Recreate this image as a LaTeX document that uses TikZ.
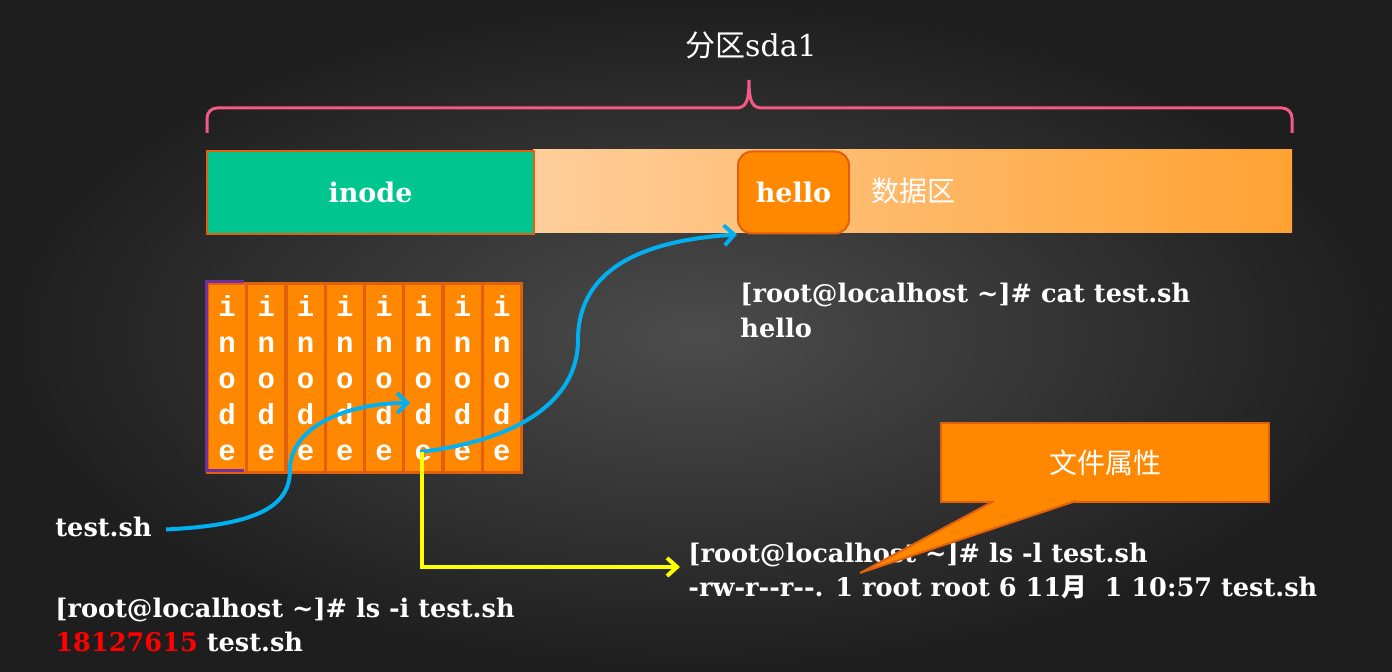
\documentclass[tikz,border=0pt]{standalone}
\usepackage{fontspec}
\setmainfont{DejaVu Serif}
\newfontfamily\cjk{Noto Sans CJK SC}
\newfontfamily\monob{Liberation Mono}
\usetikzlibrary{arrows.meta}
\definecolor{bgin}{RGB}{76,76,76}
\definecolor{bgout}{RGB}{30,30,30}
\definecolor{orng}{RGB}{255,136,0}
\definecolor{orngdk}{RGB}{224,96,16}
\definecolor{grn}{RGB}{0,197,143}
\definecolor{pinkb}{RGB}{245,90,135}
\definecolor{blu}{RGB}{0,176,240}
\definecolor{yel}{RGB}{255,255,0}
\definecolor{dlight}{RGB}{255,206,155}
\definecolor{ddark}{RGB}{255,162,50}
\definecolor{purp}{RGB}{112,48,160}
\definecolor{numred}{RGB}{255,0,0}
\tikzset{
  txt/.style={text=white, inner sep=0pt, font=\bfseries\fontsize{12.8}{16}\selectfont, anchor=base west},
  cellbox/.style={fill=orng, draw=orngdk, line width=1.5pt, inner sep=0pt,
    minimum width=19.6pt, minimum height=94.5pt, anchor=north west,
    text=white, align=center, font=\monob\bfseries\fontsize{14.5}{18}\selectfont},
  bluarrow/.style={draw=blu, line width=2pt, -{Straight Barb[length=5pt,width=10pt]}},
  yelarrow/.style={draw=yel, line width=2pt, -{Straight Barb[length=5pt,width=9pt]}},
}
\begin{document}
\begin{tikzpicture}[x=0.5pt,y=-0.5pt]
\useasboundingbox (0,0) rectangle (1392,672);
\shade[inner color=bgin, outer color=bgout] (0,0) rectangle (1392,672);

% title and brace
\node (title) [text=white, font=\fontsize{15}{18}\selectfont] at (751,45) {{\cjk 分区}sda1};
\draw[pinkb, line width=1.5pt, rounded corners=5pt] (207,133) -- (207,108) -- (735,108);
\draw[pinkb, line width=1.5pt] (735,108) .. controls (745,108) and (749,104) .. (749,80)
   .. controls (749,104) and (753,108) .. (763,108);
\draw[pinkb, line width=1.5pt, rounded corners=5pt] (763,108) -- (1292,108) -- (1292,133);

% partition bar
\shade[left color=dlight, right color=ddark] (533,150) rectangle (1292,233);
\node (inodebar) [fill=grn, draw=orngdk, line width=1pt, inner sep=0pt, minimum width=163.5pt,
   minimum height=41.5pt, anchor=north west, text=white, font=\bfseries\fontsize{13.5}{16}\selectfont] at (206,150) {inode};
\node (hello) [fill=orng, draw=orngdk, line width=1pt, rounded corners=7pt, inner sep=0pt,
   minimum width=55.5pt, minimum height=41pt, anchor=north west, text=white,
   font=\bfseries\fontsize{13.5}{16}\selectfont] at (737,150.5) {hello};
\node (datalabel) [text=white, font=\cjk\fontsize{14}{16}\selectfont] at (913,191) {数据区};

% inode cells
\foreach \i in {1,...,8}{
  \node (cell\i) [cellbox] at ({206+39.25*(\i-1)},282) {i\\n\\o\\d\\e};
}
\draw[purp, line width=1.5pt] (244,282) -- (206,282) -- (206,471) -- (244,471);

% texts
\node (testsh) [txt] at (55,537) {test.sh};
\node (lsi) [txt] at (55,618) {[root@localhost \textasciitilde]\# ls -i test.sh};
\node (num) [txt] at (55,652) {\textcolor{numred}{18127615} test.sh};
\node (catcmd) [txt] at (740,303) {[root@localhost \textasciitilde]\# cat test.sh};
\node (catout) [txt] at (740,338) {hello};
\node (lslcmd) [txt] at (688,563) {[root@localhost \textasciitilde]\# ls -l test.sh};
\node (lslout) [txt] at (688,597) {-rw-r-{}-r-{}-. 1 root root 6 11{\cjk 月}\ \ 1 10:57 test.sh};

% connectors
\coordinate (b1e) at (410,403);
\coordinate (b2s) at (420,452);
\coordinate (ycorner) at (422,567);
\coordinate (yend) at (680,567);
\draw[bluarrow] ([xshift=7pt,yshift=-1pt]testsh.east) .. controls (260,525) and (290,505) .. (290,470)
   .. controls (290,425) and (350,403) .. (b1e);
\draw[bluarrow] (b2s) .. controls (520,440) and (578,400) .. (578,340)
   .. controls (578,265) and (650,240) .. (hello.south west);
\draw[yelarrow] (422,452) -- (ycorner) -- (yend);

% callout
\node (callout) [fill=orng, draw=orngdk, line width=1pt, inner sep=0pt, minimum width=164pt,
   minimum height=39.5pt, anchor=north west, text=white, font=\cjk\fontsize{14}{16}\selectfont] at (940,422) {};
\coordinate (ptip) at (860,573);
\fill[orng] (994,500) -- (ptip) -- (1076,500) -- cycle;
\draw[orngdk, line width=1pt] (994,501) -- (ptip) -- (1076,501);
\node[text=white, font=\cjk\fontsize{14}{16}\selectfont] at (callout.center) {文件属性};
\end{tikzpicture}
\end{document}
